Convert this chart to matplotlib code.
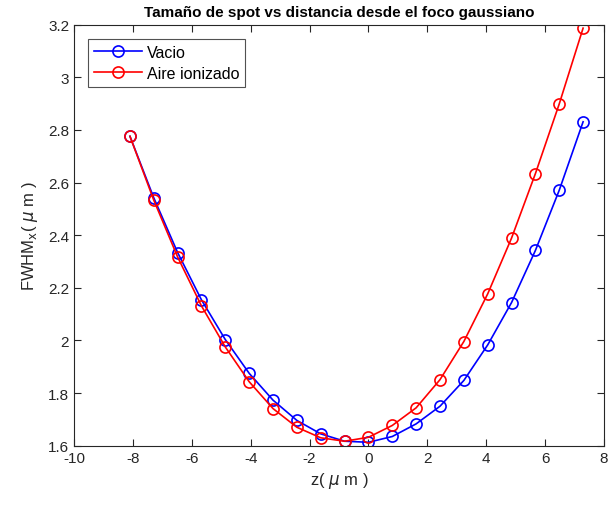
import numpy as np
import matplotlib
matplotlib.use('Agg')
import matplotlib.pyplot as plt
from matplotlib.ticker import FuncFormatter

# data
z = [-8.1, -7.29, -6.48, -5.67, -4.86, -4.05, -3.24, -2.43, -1.62, -0.81,
     0.0, 0.81, 1.62, 2.43, 3.24, 4.05, 4.86, 5.67, 6.48, 7.29]
fwhm_vacio = [2.776, 2.542, 2.334, 2.154, 2.003, 1.875, 1.773, 1.696, 1.645, 1.617,
              1.613, 1.635, 1.683, 1.750, 1.848, 1.983, 2.144, 2.342, 2.571, 2.831]
fwhm_aire = [2.776, 2.533, 2.317, 2.131, 1.975, 1.843, 1.741, 1.670, 1.630, 1.617,
             1.632, 1.677, 1.744, 1.851, 1.996, 2.177, 2.389, 2.634, 2.899, 3.187]
labels = ['Vacio', 'Aire ionizado']

plt.rcParams['font.family'] = ['Liberation Sans', 'DejaVu Sans']
plt.rcParams['mathtext.fontset'] = 'dejavusans'
plt.rcParams['axes.unicode_minus'] = False

fig = plt.figure(figsize=(6.12, 5.06), dpi=100)
ax = fig.add_axes([74/612, 1 - 446.7/506, 530/612, (446.7 - 25.7)/506])

ax.plot(z, fwhm_vacio, color='blue', marker='o', markersize=8, markerfacecolor='none',
        markeredgewidth=1.2, linewidth=1.2, label=labels[0])
ax.plot(z, fwhm_aire, color='red', marker='o', markersize=8, markerfacecolor='none',
        markeredgewidth=1.2, linewidth=1.2, label=labels[1])

ax.set_xlim(-10, 8)
ax.set_ylim(1.6, 3.2)
ax.set_xticks(np.arange(-10, 9, 2))
ax.set_yticks([1.6, 1.8, 2.0, 2.2, 2.4, 2.6, 2.8, 3.0, 3.2])
ax.yaxis.set_major_formatter(FuncFormatter(lambda v, p: f'{v:g}'))
ax.tick_params(direction='in', top=True, right=True, length=5, width=0.8,
               colors='0.15', labelsize=11, labelcolor='0.15')
for s in ax.spines.values():
    s.set_color('0.15')
    s.set_linewidth(0.8)

ax.set_xlabel(r'z( $\mu$ m )', fontsize=12, color='0.15')
ax.set_ylabel(r'FWHM$_\mathrm{x}$( $\mu$ m )', fontsize=12, color='0.15', labelpad=6)
ax.set_title('Tamaño de spot vs distancia desde el foco gaussiano',
             fontsize=11, fontweight='bold', pad=6)

leg = ax.legend(loc='upper left', fontsize=11.5, fancybox=False, edgecolor='0.15',
                borderaxespad=0.9, handlelength=3.0, handletextpad=0.3,
                borderpad=0.35, labelspacing=0.4)
leg.get_frame().set_linewidth(0.8)

fig.savefig('out.png', dpi=100)
